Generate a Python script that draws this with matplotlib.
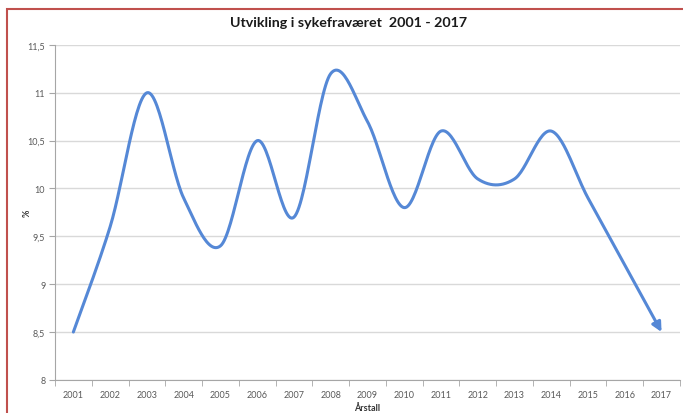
import numpy as np
import matplotlib.pyplot as plt
from matplotlib.patches import Rectangle

aar = [str(a) for a in range(2001, 2018)]
sykefravaer = [8.5, 9.6, 11.0, 9.9, 9.4, 10.5, 9.7, 11.2, 10.7, 9.8, 10.6, 10.1, 10.1, 10.6, 9.9, 9.2, 8.5]
y_ticks = [8, 8.5, 9, 9.5, 10, 10.5, 11, 11.5]

farge = '#5588d6'
graa = '#595959'

plt.rcParams['font.family'] = ['Lato', 'DejaVu Sans']


def glatt(x, y, n=30):
    # Catmull-Rom, slik Excel glatter linjer
    x = np.asarray(x, float)
    y = np.asarray(y, float)
    px = np.concatenate([[x[0]], x, [x[-1]]])
    py = np.concatenate([[y[0]], y, [y[-1]]])
    xs, ys = [], []
    t = np.linspace(0, 1, n)
    for i in range(1, len(px) - 2):
        p0, p1, p2, p3 = px[i-1], px[i], px[i+1], px[i+2]
        q0, q1, q2, q3 = py[i-1], py[i], py[i+1], py[i+2]
        c1x, c1y = p1 + (p2 - p0) / 6, q1 + (q2 - q0) / 6
        c2x, c2y = p2 - (p3 - p1) / 6, q2 - (q3 - q1) / 6
        bx = (1-t)**3*p1 + 3*(1-t)**2*t*c1x + 3*(1-t)*t**2*c2x + t**3*p2
        by = (1-t)**3*q1 + 3*(1-t)**2*t*c1y + 3*(1-t)*t**2*c2y + t**3*q2
        xs.extend(bx)
        ys.extend(by)
    return np.array(xs), np.array(ys)


fig = plt.figure(figsize=(6.83, 4.14), dpi=100)
ax = fig.add_axes([0.0805, 0.08, 0.915, 0.809])

xpos = np.arange(len(aar))
gx, gy = glatt(xpos, sykefravaer)
ax.plot(gx[:-4], gy[:-4], color=farge, lw=2.2, solid_capstyle='round', zorder=3)
ax.annotate('', xy=(gx[-1], gy[-1]), xytext=(gx[-6], gy[-6]),
            arrowprops=dict(arrowstyle='-|>', color=farge, lw=2.2, mutation_scale=14, shrinkA=0, shrinkB=0),
            zorder=4)

ax.set_xlim(-0.5, len(aar) - 0.5)
ax.set_ylim(8, 11.5)
ax.set_yticks(y_ticks)
ax.set_yticklabels([('%g' % v).replace('.', ',') for v in y_ticks])
ax.set_xticks(xpos)
ax.set_xticklabels(aar)
ax.set_xticks(np.arange(-0.5, len(aar)), minor=True)
ax.tick_params(axis='x', which='major', length=0, pad=7, labelsize=6.5, labelcolor=graa)
ax.tick_params(axis='x', which='minor', length=4, color='#a6a6a6')
ax.tick_params(axis='y', length=4, color='#a6a6a6', labelsize=6.5, labelcolor=graa, pad=3)

ax.grid(axis='y', color='#d9d9d9', lw=1)
ax.set_axisbelow(True)
for s in ['top', 'right']:
    ax.spines[s].set_visible(False)
ax.spines['left'].set_color('#a6a6a6')
ax.spines['bottom'].set_color('#a6a6a6')

ax.set_xlabel('Årstall', fontsize=6.5, fontweight='bold', color='#333333', labelpad=3)
ax.set_ylabel('%', fontsize=6.5, fontweight='bold', color='#333333')
ax.yaxis.set_label_coords(-0.037, 0.5)
fig.suptitle('Utvikling i sykefraværet  2001 - 2017', x=0.51, y=0.958, fontsize=10.3, fontweight='bold', color='#1a1a1a')

fig.patches.append(Rectangle((7/683, -0.1), 1.2, 1 - 10/414 + 0.1, transform=fig.transFigure,
                             fill=False, edgecolor='#c0504d', lw=1.5))

fig.savefig('out.png', dpi=100)
